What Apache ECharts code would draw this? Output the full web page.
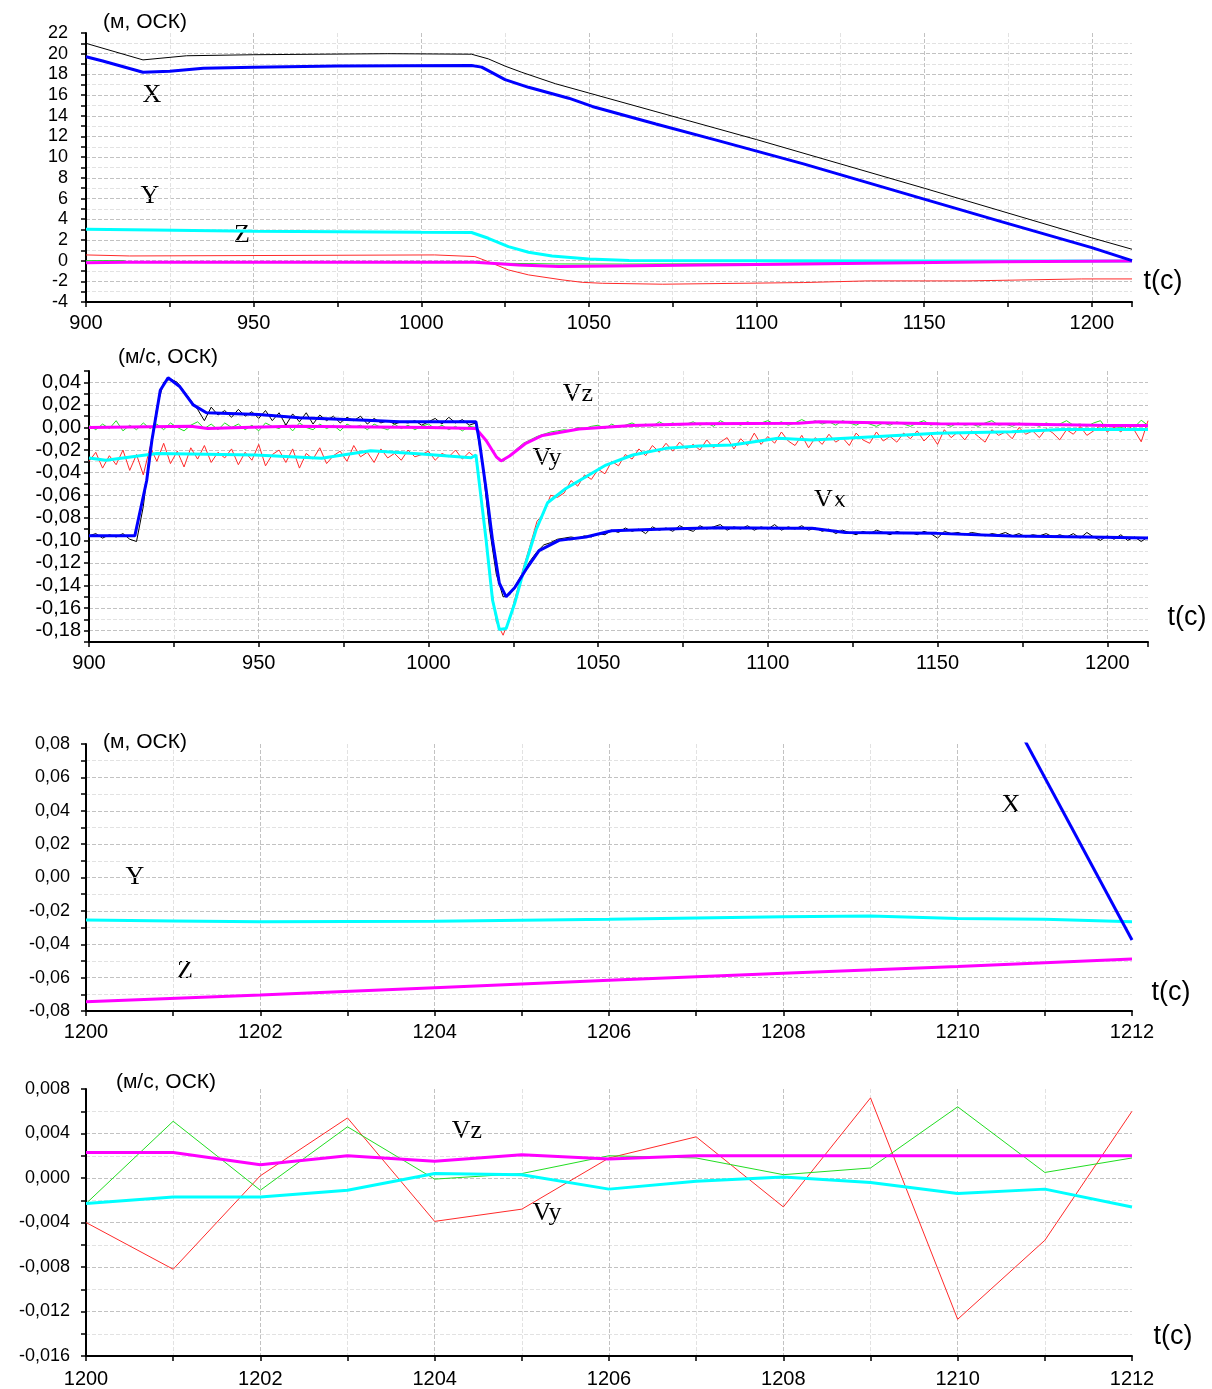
<!DOCTYPE html>
<html>
<head>
<meta charset="utf-8">
<script src="https://cdn.jsdelivr.net/npm/echarts@6/dist/echarts.min.js"></script>
<style>
  html, body { margin: 0; padding: 0; background: #fff; }
  #chart { width: 1212px; height: 1389px; }
</style>
</head>
<body>
<div id="chart"></div>
<script>
// panel 1 — coordinates, 900..1212 s
const p1T_Xraw = [900, 917, 930, 950, 990, 1015, 1020, 1025, 1030, 1040, 1050, 1070, 1100, 1150, 1200, 1212]
const p1Xraw = [21.0, 19.4, 19.8, 19.9, 20.0, 19.95, 19.5, 18.8, 18.2, 17.1, 16.2, 14.4, 11.7, 7.0, 2.2, 1.1]
const p1T_X = [900, 905, 917, 925, 935, 950, 975, 1015, 1018, 1020, 1025, 1032, 1044, 1051, 1070, 1088, 1114, 1151, 1173, 1200, 1212]
const p1X = [19.7, 19.3, 18.2, 18.3, 18.6, 18.7, 18.8, 18.85, 18.7, 18.36, 17.5, 16.75, 15.7, 14.9, 13.2, 11.65, 9.35, 5.85, 3.77, 1.25, 0.0]
const p1T_Y = [900, 920, 950, 1000, 1015, 1020, 1026, 1032, 1039, 1050, 1062, 1100, 1150, 1212]
const p1Y = [3.03, 2.95, 2.85, 2.74, 2.72, 2.16, 1.35, 0.81, 0.45, 0.16, 0.0, -0.02, -0.03, -0.03]
const p1T_Red = [900, 913, 1004, 1016, 1020, 1026, 1032, 1042, 1048, 1054, 1072, 1114, 1133, 1163, 1197, 1212]
const p1Red = [0.55, 0.45, 0.55, 0.39, -0.1, -0.9, -1.38, -1.86, -2.1, -2.19, -2.28, -2.12, -1.96, -1.96, -1.77, -1.77]
const p1T_Z = [900, 912, 940, 1016, 1029, 1041, 1057, 1084, 1108, 1133, 1173, 1212]
const p1Z = [-0.2, -0.15, -0.15, -0.16, -0.42, -0.58, -0.51, -0.42, -0.35, -0.26, -0.1, -0.03]
const p1T_Green = [900, 911, 913, 1016, 1022, 1040, 1060, 1090, 1130, 1212]
const p1Green = [0.0, 0.0, -0.15, -0.1, -0.25, -0.32, -0.33, -0.3, -0.2, -0.05]

// panel 2 — velocities, 900..1212 s
// raw signals are sampled every 2 s
const p2T_raw = []
for (let t = 900; t <= 1212; t += 2) p2T_raw.push(t)
const p2VxRaw = [
  -0.096, -0.094, -0.098, -0.095, -0.097, -0.094, -0.099, -0.101, -0.070, -0.020,
  0.018, 0.040, 0.043, 0.040, 0.032, 0.024, 0.016, 0.006, 0.018, 0.011,
  0.015, 0.009, 0.016, 0.010, 0.014, 0.008, 0.015, 0.006, 0.013, 0.002,
  0.012, 0.005, 0.013, 0.003, 0.011, 0.006, 0.010, 0.004, 0.009, 0.006,
  0.010, 0.003, 0.008, 0.004, 0.006, 0.003, 0.005, 0.004, 0.006, 0.002,
  0.005, 0.008, 0.003, 0.009, 0.004, 0.007, 0.002, 0.004, -0.035, -0.090,
  -0.130, -0.150, -0.148, -0.138, -0.128, -0.118, -0.110, -0.104, -0.102, -0.099,
  -0.098, -0.097, -0.098, -0.096, -0.097, -0.094, -0.095, -0.091, -0.093, -0.089,
  -0.092, -0.090, -0.094, -0.088, -0.091, -0.089, -0.092, -0.087, -0.090, -0.092,
  -0.087, -0.090, -0.088, -0.086, -0.091, -0.088, -0.090, -0.087, -0.091, -0.088,
  -0.090, -0.086, -0.091, -0.088, -0.090, -0.087, -0.091, -0.089, -0.092, -0.090,
  -0.094, -0.091, -0.093, -0.095, -0.092, -0.094, -0.091, -0.093, -0.095, -0.092,
  -0.094, -0.093, -0.095, -0.092, -0.094, -0.098, -0.092, -0.094, -0.093, -0.095,
  -0.093, -0.094, -0.096, -0.094, -0.095, -0.093, -0.096, -0.094, -0.097, -0.095,
  -0.096, -0.094, -0.097, -0.095, -0.097, -0.094, -0.098, -0.093, -0.097, -0.100,
  -0.096, -0.099, -0.095, -0.100, -0.097, -0.101, -0.097
]
const p2VyRaw = [
  -0.030, -0.022, -0.036, -0.025, -0.033, -0.020, -0.038, -0.024, -0.042, -0.017,
  -0.030, -0.014, -0.032, -0.021, -0.035, -0.018, -0.028, -0.016, -0.031, -0.022,
  -0.027, -0.019, -0.033, -0.022, -0.029, -0.015, -0.034, -0.024, -0.020, -0.031,
  -0.019, -0.036, -0.023, -0.028, -0.018, -0.032, -0.025, -0.021, -0.030, -0.016,
  -0.026, -0.022, -0.031, -0.019, -0.027, -0.023, -0.029, -0.020, -0.026, -0.024,
  -0.021, -0.029, -0.023, -0.026, -0.020, -0.028, -0.022, -0.027, -0.075, -0.130,
  -0.172, -0.184, -0.168, -0.146, -0.124, -0.104, -0.083, -0.076, -0.060, -0.062,
  -0.058, -0.047, -0.052, -0.042, -0.046, -0.037, -0.041, -0.030, -0.034, -0.024,
  -0.028, -0.019, -0.025, -0.016, -0.022, -0.014, -0.021, -0.013, -0.019, -0.015,
  -0.020, -0.011, -0.018, -0.013, -0.009, -0.019, -0.010, -0.016, -0.005, -0.015,
  -0.008, -0.014, -0.004, -0.012, -0.016, -0.007, -0.018, -0.009, -0.015, -0.006,
  -0.013, -0.009, -0.016, -0.005, -0.011, -0.014, -0.004, -0.012, -0.008, -0.013,
  -0.005, -0.010, -0.003, -0.012, -0.006, -0.015, -0.002, -0.009, -0.004, -0.011,
  -0.003, -0.008, -0.013, -0.002, -0.007, -0.004, -0.010, 0.000, -0.006, -0.003,
  -0.009, -0.001, -0.005, -0.011, -0.002, -0.006, 0.001, -0.007, -0.003, 0.002,
  -0.004, 0.0002, -0.0039, 0.0018, -0.0026, -0.0127, 0.006
]
const p2VzRaw = [
  0.002, -0.002, 0.003, -0.001, 0.006, -0.003, 0.002, -0.002, 0.004, -0.001,
  0.003, -0.002, 0.004, 0.000, -0.003, 0.002, 0.005, -0.001, 0.003, -0.002,
  0.004, 0.000, 0.003, -0.002, 0.002, -0.003, 0.004, 0.001, -0.001, 0.003,
  -0.003, 0.004, 0.000, -0.002, 0.003, -0.001, 0.002, -0.003, 0.003, 0.000,
  0.002, -0.002, 0.003, 0.000, -0.002, 0.003, -0.001, 0.002, -0.002, 0.001,
  0.003, -0.001, 0.002, -0.002, 0.001, -0.003, 0.001, 0.000, -0.008, -0.017,
  -0.025, -0.030, -0.025, -0.019, -0.014, -0.011, -0.008, -0.006, -0.004, -0.003,
  -0.002, -0.003, 0.000, -0.001, 0.001, 0.002, -0.001, 0.003, 0.000, 0.002,
  0.004, 0.001, 0.003, 0.001, 0.005, 0.002, 0.004, 0.002, 0.003, 0.005,
  0.002, 0.004, 0.001, 0.006, 0.003, 0.004, 0.002, 0.005, 0.003, 0.004,
  0.006, 0.003, 0.005, 0.002, 0.004, 0.007, 0.004, 0.006, 0.003, 0.005,
  0.002, 0.006, 0.004, 0.002, 0.005, 0.003, 0.001, 0.004, 0.002, 0.005,
  0.003, 0.001, 0.004, 0.006, 0.002, 0.004, 0.003, 0.001, 0.004, 0.002,
  0.003, 0.001, 0.004, 0.006, 0.002, 0.003, 0.001, 0.004, 0.002, 0.003,
  0.001, 0.004, 0.002, 0.003, 0.006, 0.002, 0.003, 0.001, 0.004, 0.006,
  -0.0022, -0.0011, -0.0001, 0.0020, 0.0003, 0.0064, 0.0018
]
const p2T_Vx = [900, 913.5, 917, 918.5, 921, 923.3, 926.8, 930.7, 934.6, 950, 962, 981.7, 991.5, 1014, 1015, 1017, 1018.9, 1020.9, 1022.9, 1025.4, 1028.7, 1032.6, 1038.5, 1046.4, 1054, 1070, 1085.6, 1107, 1113, 1122.8, 1149.8, 1171.9, 1199.3, 1212]
const p2Vx = [-0.096, -0.096, -0.047, -0.012, 0.033, 0.044, 0.036, 0.020, 0.013, 0.0115, 0.0087, 0.0063, 0.005, 0.005, -0.012, -0.055, -0.100, -0.138, -0.150, -0.142, -0.126, -0.109, -0.100, -0.097, -0.0915, -0.090, -0.0888, -0.0893, -0.0893, -0.093, -0.0938, -0.0962, -0.0973, -0.098]
const p2T_Vy = [900, 905, 920, 949, 968.5, 983, 998, 1012.6, 1014, 1015, 1017, 1018.9, 1020.9, 1022.9, 1025.4, 1028.7, 1031.7, 1035.1, 1040.5, 1046.4, 1052.3, 1060.2, 1070, 1079.7, 1089.5, 1103, 1113, 1132.6, 1149.8, 1171.9, 1186.6, 1212]
const p2Vy = [-0.027, -0.029, -0.023, -0.0244, -0.0273, -0.0206, -0.0235, -0.0268, -0.0244, -0.0495, -0.0997, -0.153, -0.179, -0.178, -0.156, -0.120, -0.0908, -0.0667, -0.054, -0.0436, -0.0333, -0.0244, -0.0185, -0.0165, -0.0156, -0.0096, -0.0111, -0.0081, -0.0052, -0.0037, -0.0017, -0.0017]
const p2T_Vz = [900, 930, 935, 945, 960, 1000, 1014, 1017, 1020, 1021.4, 1023.9, 1028.7, 1033.6, 1044.4, 1060, 1079.7, 1109, 1115, 1150, 1172, 1201, 1212]
const p2Vz = [0.000, 0.001, -0.001, 0.000, 0.001, 0.000, -0.001, -0.0115, -0.026, -0.0297, -0.0253, -0.014, -0.0071, -0.0013, 0.0017, 0.0032, 0.0038, 0.005, 0.0032, 0.003, 0.0017, 0.0017]

// panel 3 — coordinates, last 12 s
const p3T_Y = [1200, 1201, 1202, 1204, 1206, 1208, 1209, 1210, 1211, 1212]
const p3Y = [-0.0255, -0.026, -0.0265, -0.0262, -0.025, -0.0235, -0.023, -0.0245, -0.025, -0.0265]
const p3T_Z = [1200, 1202, 1204, 1206, 1208, 1210, 1212]
const p3Z = [-0.0744, -0.0704, -0.066, -0.0615, -0.0574, -0.0534, -0.0488]
const p3T_X = [1200, 1212]
const p3X = [1.13, -0.0375]

// panel 4 — velocities, last 12 s
const p4T = [1200, 1201, 1202, 1203, 1204, 1205, 1206, 1207, 1208, 1209, 1210, 1211, 1212]
const p4VyRaw = [-0.0040, -0.0082, 0.0002, 0.0054, -0.0039, -0.0028, 0.0018, 0.0037, -0.0026, 0.0072, -0.0127, -0.0056, 0.0060]
const p4VzRaw = [-0.0023, 0.0051, -0.0011, 0.0046, -0.0001, 0.0004, 0.0020, 0.0018, 0.0003, 0.0009, 0.0064, 0.0005, 0.0018]
const p4Vz = [0.0023, 0.0023, 0.0012, 0.0020, 0.0015, 0.0021, 0.0017, 0.0020, 0.0020, 0.0020, 0.0020, 0.0020, 0.0020]
const p4Vy = [-0.0023, -0.0017, -0.0017, -0.0011, 0.0004, 0.0003, -0.0010, -0.0003, 0.0001, -0.0004, -0.0014, -0.0010, -0.0026]

const zip = (t, v) => t.map((x, i) => [x, v[i]])
const comma = (v, d) => (Math.abs(v) < 1e-12 ? 0 : v).toFixed(d).replace('.', ',')

const MAJOR = '#c2c2c2'
const MINOR = '#e2e2e2'
const LABEL_FONT = 'Liberation Sans'

function xAxis(grid, min, max, step, every, margin) {
  return {
    type: 'value', gridIndex: grid, min: min, max: max, interval: step,
    axisLine: { show: true, onZero: false, lineStyle: { color: '#000', width: 2 } },
    axisTick: { show: true, length: 5, lineStyle: { color: '#000', width: 1.5 } },
    axisLabel: {
      color: '#000', fontSize: 20, fontFamily: LABEL_FONT, margin: margin,
      formatter: v => (Math.round(v) % every === 0 ? String(Math.round(v)) : '')
    },
    splitLine: { show: true, showMaxLine: false, lineStyle: { type: 'dashed', color: [MAJOR, MINOR], width: 1 } }
  }
}

function yAxis(grid, min, max, step, isMajor, fmt, fontSize, margin, colors) {
  return {
    type: 'value', gridIndex: grid, min: min, max: max, interval: step,
    axisLine: { show: true, onZero: false, lineStyle: { color: '#000', width: 2 } },
    axisTick: { show: true, length: 5, lineStyle: { color: '#000', width: 1.5 } },
    axisLabel: {
      color: '#000', fontSize: fontSize, fontFamily: LABEL_FONT, margin: margin,
      formatter: v => (isMajor(v) ? fmt(v) : '')
    },
    splitLine: { show: true, showMaxLine: false, lineStyle: { type: 'dashed', color: colors, width: 1 } }
  }
}

function line(grid, data, color, width) {
  return {
    type: 'line', xAxisIndex: grid, yAxisIndex: grid, data: data,
    showSymbol: false, symbol: 'none', silent: true, clip: true,
    lineStyle: { color: color, width: width }, itemStyle: { color: color }
  }
}

function txt(x, y, text, font) {
  return {
    type: 'text', x: x, y: y, silent: true,
    style: { text: text, fill: '#000', font: font, align: 'center', verticalAlign: 'middle' }
  }
}

const chart = echarts.init(document.getElementById('chart'))

const CURVE_FONT = '26px "Liberation Serif"'
const UNIT_FONT = '21px "Liberation Sans"'
const T_FONT = '27px "Liberation Sans"'

chart.setOption({
  animation: false,
  backgroundColor: '#fff',
  grid: [
    { left: 86, top: 33, width: 1046, height: 269 },
    { left: 89, top: 371, width: 1059, height: 271 },
    { left: 86, top: 744, width: 1046, height: 267 },
    { left: 86, top: 1089, width: 1046, height: 267 }
  ],
  xAxis: [
    xAxis(0, 900, 1212, 25, 50, 11),
    xAxis(1, 900, 1212, 25, 50, 11),
    xAxis(2, 1200, 1212, 1, 2, 11),
    xAxis(3, 1200, 1212, 1, 2, 13)
  ],
  yAxis: [
    yAxis(0, -4, 22, 1, v => Math.round(v) % 2 === 0, v => String(Math.round(v)), 18, 18, [MAJOR, MINOR]),
    yAxis(1, -0.19, 0.05, 0.01, v => Math.round(v * 100) % 2 === 0, v => comma(v, 2), 20, 8, [MINOR, MAJOR]),
    yAxis(2, -0.08, 0.08, 0.01, v => Math.round(v * 100) % 2 === 0, v => comma(v, 2), 18, 16, [MAJOR, MINOR]),
    yAxis(3, -0.016, 0.008, 0.002, v => Math.round(v * 1000) % 4 === 0, v => comma(v, 3), 18, 16, [MAJOR, MINOR])
  ],
  series: [
    line(0, zip(p1T_Xraw, p1Xraw), '#000', 1),
    line(0, zip(p1T_Red, p1Red), '#ff2a2a', 1),
    line(0, zip(p1T_Green, p1Green), '#22dd22', 1),
    line(0, zip(p1T_Y, p1Y), '#00ffff', 3),
    line(0, zip(p1T_Z, p1Z), '#ff00ff', 3),
    line(0, zip(p1T_X, p1X), '#0000ff', 3),

    line(1, zip(p2T_raw, p2VzRaw), '#22dd22', 1),
    line(1, zip(p2T_raw, p2VyRaw), '#ff2a2a', 1),
    line(1, zip(p2T_raw, p2VxRaw), '#000', 1),
    line(1, zip(p2T_Vz, p2Vz), '#ff00ff', 3),
    line(1, zip(p2T_Vy, p2Vy), '#00ffff', 3),
    line(1, zip(p2T_Vx, p2Vx), '#0000ff', 3),

    line(2, zip(p3T_Y, p3Y), '#00ffff', 3),
    line(2, zip(p3T_Z, p3Z), '#ff00ff', 3),
    line(2, zip(p3T_X, p3X), '#0000ff', 3),

    line(3, zip(p4T, p4VyRaw), '#ff2a2a', 1),
    line(3, zip(p4T, p4VzRaw), '#22dd22', 1),
    line(3, zip(p4T, p4Vz), '#ff00ff', 3),
    line(3, zip(p4T, p4Vy), '#00ffff', 3)
  ],
  graphic: [
    txt(145, 22, '(м, ОСК)', UNIT_FONT),
    txt(168, 357, '(м/с, ОСК)', UNIT_FONT),
    txt(145, 742, '(м, ОСК)', UNIT_FONT),
    txt(166, 1082, '(м/с, ОСК)', UNIT_FONT),

    txt(1163, 282, 't(c)', T_FONT),
    txt(1187, 618, 't(c)', T_FONT),
    txt(1171, 993, 't(c)', T_FONT),
    txt(1173, 1337, 't(c)', T_FONT),

    txt(152, 95, 'X', CURVE_FONT),
    txt(150, 196, 'Y', CURVE_FONT),
    txt(242, 235, 'Z', CURVE_FONT),
    txt(578, 394, 'Vz', CURVE_FONT),
    txt(547, 458, 'Vy', CURVE_FONT),
    txt(830, 500, 'Vx', CURVE_FONT),
    txt(135, 877, 'Y', CURVE_FONT),
    txt(185, 971, 'Z', CURVE_FONT),
    txt(1011, 805, 'X', CURVE_FONT),
    txt(467, 1131, 'Vz', CURVE_FONT),
    txt(547, 1213, 'Vy', CURVE_FONT)
  ]
})
</script>
</body>
</html>
